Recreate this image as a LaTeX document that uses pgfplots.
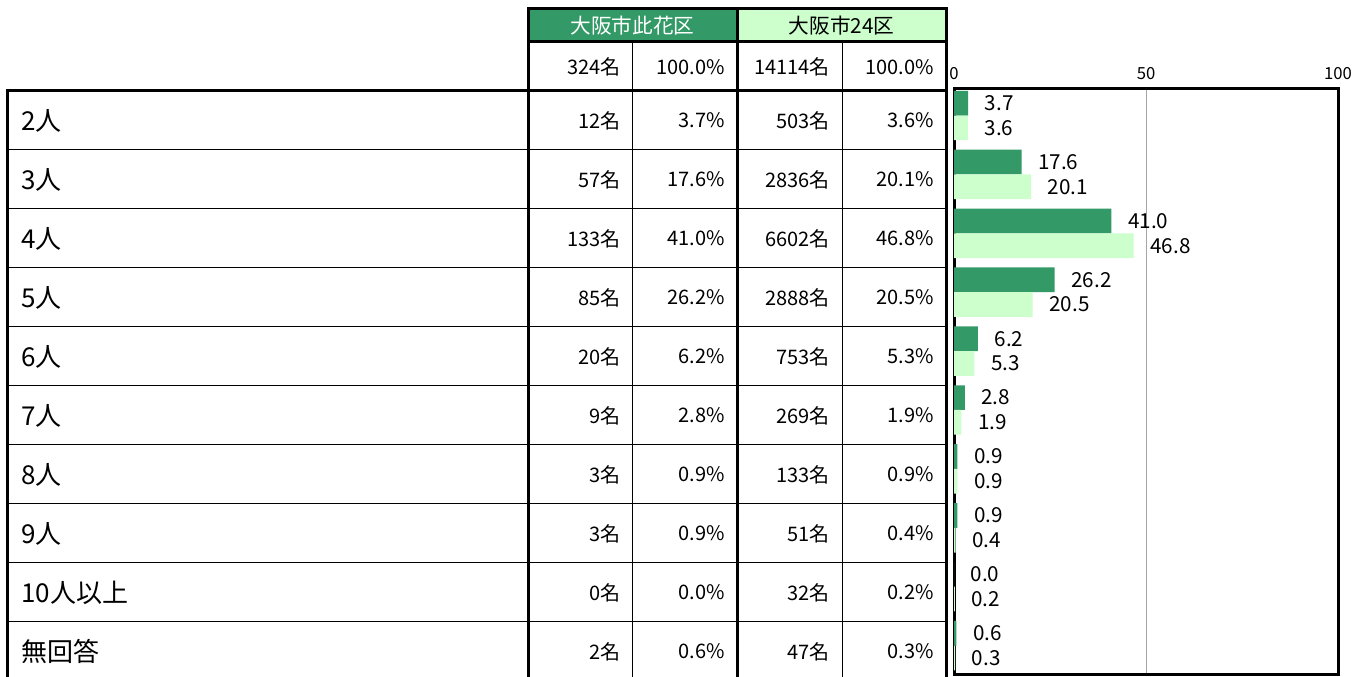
\documentclass[border=0pt]{standalone}
\usepackage{pgfplots}
\pgfplotsset{compat=1.18}
\usepackage{fontspec}
\setmainfont{Noto Sans CJK JP}
\definecolor{cdark}{RGB}{51,153,102}
\definecolor{clight}{RGB}{204,255,204}
\begin{document}
\begin{tikzpicture}
\begin{scope}[x=0.75pt,y=-0.75pt]
\useasboundingbox (0,0) rectangle (1362,677);
\fill[white] (0,0) rectangle (1362,677);
\fill[cdark] (528,9) rectangle (737,42);
\fill[clight] (737,9) rectangle (946,42);
\node[text=white,font=\fontsize{15.5}{18}\selectfont,inner sep=0] at (632.5,25.5) {大阪市此花区};
\node[text=black,font=\fontsize{15.5}{18}\selectfont,inner sep=0] at (841.5,25.5) {大阪市24区};
\begin{scope}[every node/.style={anchor=east,inner sep=0,font=\fontsize{15}{17}\selectfont}]
\node at (621,67) {324名};
\node at (725,67) {100.0\%};
\node at (830,67) {14114名};
\node at (934,67) {100.0\%};
\foreach \lab/\a/\b/\c/\d [count=\i from 0] in {2人/12/3.7/503/3.6, 3人/57/17.6/2836/20.1, 4人/133/41.0/6602/46.8, 5人/85/26.2/2888/20.5, 6人/20/6.2/753/5.3, 7人/9/2.8/269/1.9, 8人/3/0.9/133/0.9, 9人/3/0.9/51/0.4, 10人以上/0/0.0/32/0.2, 無回答/2/0.6/47/0.3}{
  \pgfmathsetmacro\yy{120.5+59*\i}
  \node[anchor=west,font=\fontsize{19.5}{22}\selectfont] at (21,\yy) {\lab};
  \node at (621,\yy) {\a 名};
  \node at (725,\yy) {\b\%};
  \node at (830,\yy) {\c 名};
  \node at (934,\yy) {\d\%};
}
\end{scope}
\foreach \y in {150,208.5,267,326,385,444,503,562,621}
  \draw[line width=0.75pt] (7,\y) -- (946,\y);
\draw[line width=0.75pt] (632,42) -- (632,680) (842,42) -- (842,680);
\draw[line width=2.25pt] (528,9) rectangle (946,42);
\draw[line width=2.25pt] (528,9) -- (528,680) (737,9) -- (737,680) (946,9) -- (946,680);
\draw[line width=2.25pt] (7,680) -- (7,91) -- (946,91);
\coordinate (axnw) at (954,88);
\end{scope}
\begin{axis}[
  at={(axnw)}, anchor=north west, scale only axis,
  width=288pt, height=439.5pt,
  xbar, bar width=0.42,
  xmin=0, xmax=100, ymin=-0.467, ymax=9.483, y dir=reverse,
  ytick=\empty, xtick={0,50,100}, xticklabel pos=upper,
  major tick length=0pt,
  xmajorgrids, grid style={gray!70, line width=0.75pt},
  axis line style={line width=2.25pt},
  tick label style={font=\fontsize{12.5}{14}\selectfont},
  xticklabel style={yshift=3pt},
  /pgf/number format/assume math mode=true,
  point meta=x,
  nodes near coords={\pgfmathprintnumber[fixed,fixed zerofill,precision=1,assume math mode=true]{\pgfplotspointmeta}},
  nodes near coords style={anchor=west, xshift=9pt, font=\fontsize{15.5}{17}\selectfont, text=black},
]
\addplot[fill=cdark, draw=none, bar shift=-0.21] coordinates {(3.7,0) (17.6,1) (41.0,2) (26.2,3) (6.2,4) (2.8,5) (0.9,6) (0.9,7) (0.0,8) (0.6,9)};
\addplot[fill=clight, draw=none, bar shift=0.21] coordinates {(3.6,0) (20.1,1) (46.8,2) (20.5,3) (5.3,4) (1.9,5) (0.9,6) (0.4,7) (0.2,8) (0.3,9)};
\end{axis}
\end{tikzpicture}
\end{document}
